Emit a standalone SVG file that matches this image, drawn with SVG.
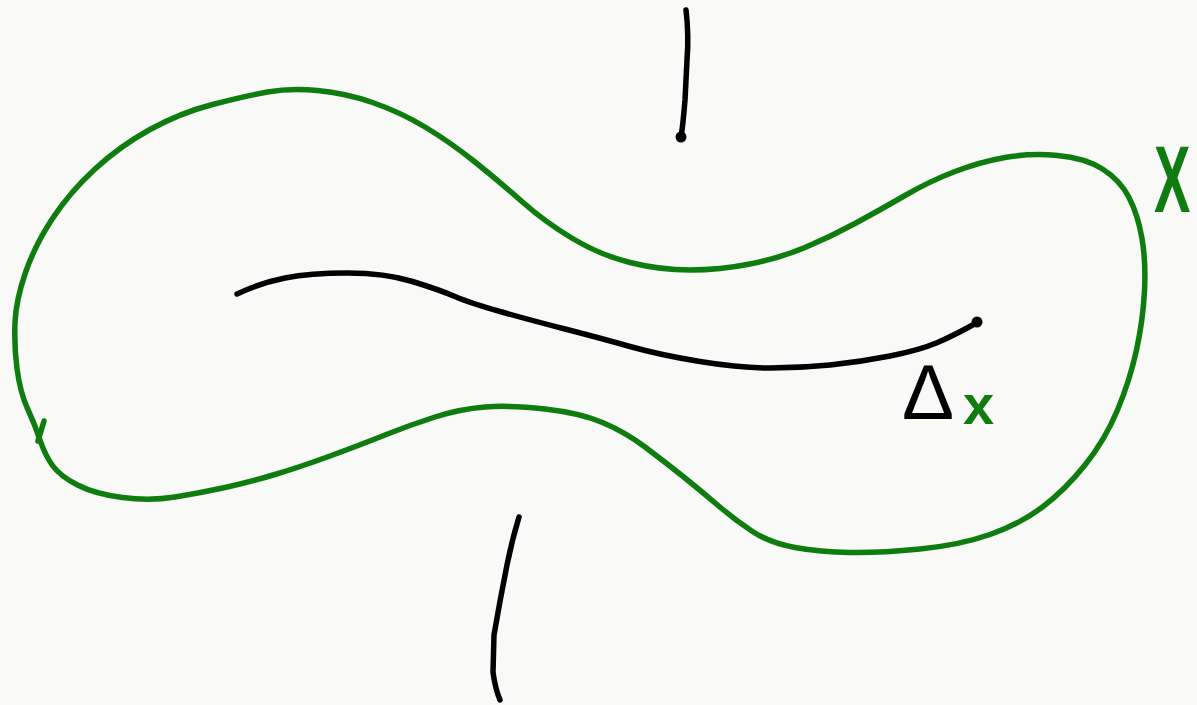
<svg xmlns="http://www.w3.org/2000/svg" width="1197" height="705" viewBox="0 0 1197 705">
<style>
.g{fill:none;stroke:#0e7c0e;stroke-width:5.5;stroke-linecap:round;stroke-linejoin:round}
.k{fill:none;stroke:#000;stroke-width:5.5;stroke-linecap:round;stroke-linejoin:round}
.lbl{font-family:"Liberation Sans",Arial,sans-serif}
</style>
<rect width="1197" height="705" fill="#f9f9f7"/>
<g id="region-X">
<path class="g" d="M267.5,92 Q290,88 317.5,90.5 Q345,93 372.5,102.5 Q400,112 425,127 Q450,142 475,162 Q500,182 522.5,202 Q545,222 572.5,238.5 Q600,255 630,262.5 Q660,270 690,270 Q720,270 750,264 Q780,258 805,247.5 Q830,237 855,223.5 Q880,210 905,195.5 Q930,181 955,171.5 Q980,162 1005,157.5 Q1030,153 1057.5,155.5 Q1085,158 1102.5,169 Q1120,180 1129,197.5 Q1138,215 1142,238.5 Q1146,262 1144.5,291 Q1143,320 1136.5,350 Q1130,380 1117.5,410 Q1105,440 1085,465 Q1065,490 1042.5,507 Q1020,524 990,534.5 Q960,545 920,549 Q880,553 850,552.5 Q820,552 795,547.5 Q770,543 752.5,531.5 Q735,520 717.5,505 Q700,490 682.5,476 Q665,462 645,447 Q625,432 602.5,422.5 Q580,413 545,409 Q510,405 485,407 Q460,409 435,417 Q410,425 385,435 Q360,445 330,456 Q300,467 275,474.5 Q250,482 225,487.5 Q200,493 175,497 Q150,501 122.5,497.5 Q95,494 77.5,485 Q60,476 52.5,465.5 Q45,455 40,440 Q35,425 27.5,408.5 Q20,392 17,368.5 Q14,345 15,322.5 Q16,300 25.5,272.5 Q35,245 52.5,218.5 Q70,192 95,169 Q120,146 150,129.5 Q180,113 212.5,104.5 Q245,96 267.5,92 Z"/>
<path class="g" d="M44,421 L38,441"/>
<text class="lbl" transform="translate(1154,212) scale(0.58,1)" font-size="94" font-weight="bold" fill="#0e7c0e">X</text>
</g>
<g id="curve">
<path class="k" d="M237,294 Q260,283 285,278 Q310,273 347.5,273 Q385,273 412.5,281.5 Q440,290 455,296.5 Q470,303 500,311.5 Q530,320 565,329 Q600,338 630,346.5 Q660,355 700,361.5 Q740,368 770,368 Q800,368 830,365 Q860,362 890,356 Q920,350 937.5,342.5 Q955,335 978,322"/>
<circle cx="977" cy="322" r="5.5" fill="#000"/>
</g>
<g id="label-delta">
<text class="lbl" x="902" y="419" font-size="78" fill="#000">Δ</text>
<text class="lbl" x="963" y="424" font-size="56" font-weight="bold" fill="#0e7c0e">x</text>
</g>
<g id="line-top">
<path class="k" d="M686,10 Q689,35 687,60 L685,100 Q683,125 681,137"/>
<circle cx="681" cy="137" r="5.5" fill="#000"/>
</g>
<g id="line-bottom">
<path class="k" d="M519,517 Q512,540 507,565 Q500,600 494,635 L493,672 Q495,688 500,700"/>
</g>
</svg>
